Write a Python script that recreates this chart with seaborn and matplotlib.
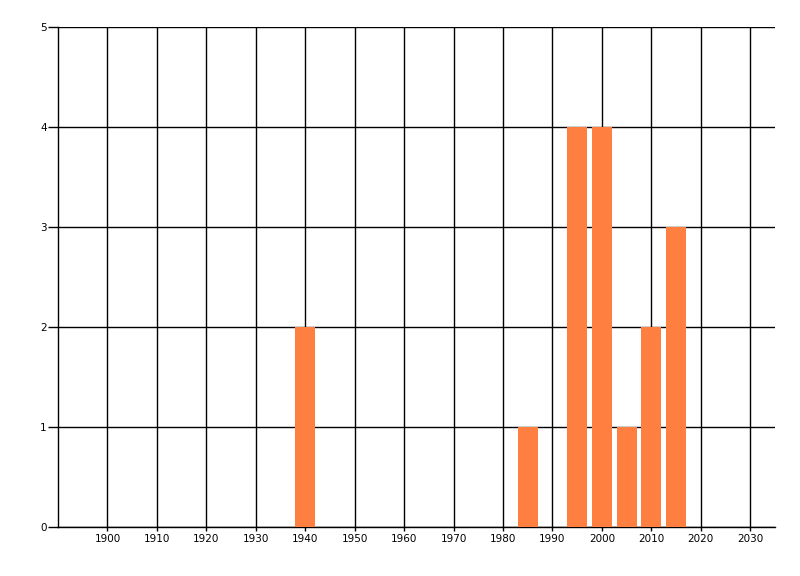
import pandas as pd
import matplotlib
matplotlib.use('Agg')
import matplotlib.pyplot as plt
import seaborn as sns

# values
years = [1940, 1985, 1995, 2000, 2005, 2010, 2015]
counts = [2, 1, 4, 4, 1, 2, 3]
x_ticks = list(range(1900, 2031, 10))
y_ticks = [0, 1, 2, 3, 4, 5]

df = pd.DataFrame({'year': years, 'count': counts})

sns.set_style('white')
plt.rcParams['font.family'] = ['DejaVu Sans']

fig = plt.figure(figsize=(8, 5.76), dpi=100)
ax = fig.add_axes([58 / 800, 49 / 576, 717 / 800, 500 / 576])

sns.barplot(x='year', y='count', data=df, native_scale=True, width=0.8,
            color='#FF7F40', saturation=1, linewidth=0, ax=ax, zorder=3)

ax.set_xlim(1890, 2035)
ax.set_ylim(0, 5)
ax.set_xticks(x_ticks)
ax.set_yticks(y_ticks)
ax.grid(True, color='black', linewidth=1)
ax.set_axisbelow(True)

for side in ['top', 'right']:
    ax.spines[side].set_visible(False)
for side in ['left', 'bottom']:
    ax.spines[side].set_color('black')
    ax.spines[side].set_linewidth(1)

ax.tick_params(axis='x', bottom=True, length=3, width=1, color='black',
               labelsize=7.5, labelcolor='black', pad=2)
ax.tick_params(axis='y', left=True, length=7, width=1, color='black',
               labelsize=7.5, labelcolor='black', pad=1)
ax.set_xlabel('')
ax.set_ylabel('')

plt.savefig('out.png', dpi=100)
